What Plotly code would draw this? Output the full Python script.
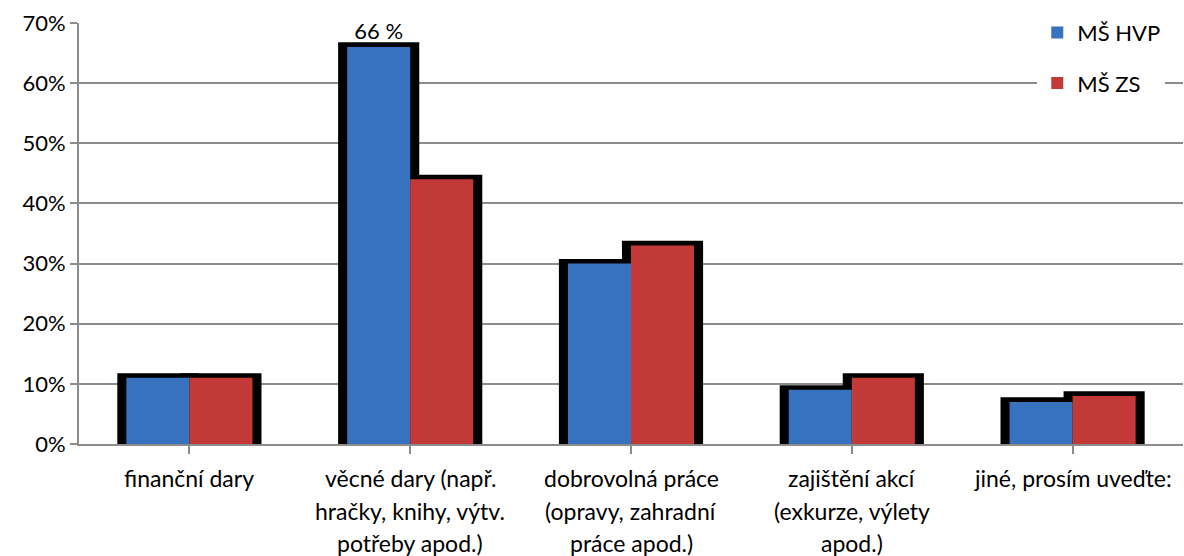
import plotly.graph_objects as go

# Survey answers: forms of support, share of respondents
categories = [
    "finanční dary",
    "věcné dary (např.<br>hračky, knihy, výtv.<br>potřeby apod.)",
    "dobrovolná práce<br>(opravy, zahradní<br>práce apod.)",
    "zajištění akcí<br>(exkurze, výlety<br>apod.)",
    "jiné, prosím uveďte:",
]
hvp = [0.11, 0.66, 0.30, 0.09, 0.07]
zs = [0.11, 0.44, 0.33, 0.11, 0.08]
series_names = ["MŠ HVP", "MŠ ZS"]
hvp_labels = ["", "66 %", "", "", ""]

FONT = "Lato"
BAR_W = 0.2855          # width of one bar in category units
PAD_X = 0.041           # black backing frame sticks out this much on each side
PAD_Y = 0.0078          # ...and this much above the bar top
LINE_GAP = 32.5         # px between category label lines
FIRST_LINE = 34         # px from the axis to the first label line

idx = list(range(len(categories)))

fig = go.Figure()

# black backing frames drawn first, behind the coloured bars
for vals, off in ((hvp, -BAR_W), (zs, 0.0)):
    fig.add_trace(go.Bar(
        x=idx, y=[v + PAD_Y for v in vals],
        offset=off - PAD_X, width=BAR_W + 2 * PAD_X,
        marker=dict(color="#000000", line=dict(width=0)),
        showlegend=False, hoverinfo="skip",
    ))

fig.add_trace(go.Bar(
    x=idx, y=hvp, name=series_names[0], offset=-BAR_W, width=BAR_W,
    marker=dict(color="#3672BD", line=dict(width=0)),
    text=hvp_labels, texttemplate="%{text}", textposition="outside",
    textfont=dict(family=FONT, size=22, color="#000000"),
    cliponaxis=False, legendgroup="a",
))
fig.add_trace(go.Bar(
    x=idx, y=zs, name=series_names[1], offset=0.0, width=BAR_W,
    marker=dict(color="#C23937", line=dict(width=0)),
    legendgroup="b",
))

# category labels, one annotation per line for wider line spacing
annotations = []
for i, label in enumerate(categories):
    for k, line in enumerate(label.split("<br>")):
        annotations.append(dict(
            x=i, xref="x", y=0, yref="paper",
            text=line, showarrow=False,
            xanchor="center", yanchor="middle",
            yshift=-(FIRST_LINE + k * LINE_GAP),
            font=dict(family=FONT, size=23, color="#000000"),
        ))

fig.update_layout(
    barmode="overlay",
    width=1184, height=556,
    margin=dict(l=79, r=1, t=23, b=112),
    paper_bgcolor="#ffffff", plot_bgcolor="#ffffff",
    font=dict(family=FONT, size=22, color="#000000"),
    annotations=annotations,
    legend=dict(
        x=0.868, y=1.027, xanchor="left", yanchor="top",
        bgcolor="#ffffff", traceorder="grouped", tracegroupgap=19,
        font=dict(family=FONT, size=22, color="#000000"),
        itemwidth=30,
    ),
    xaxis=dict(
        tickmode="array", tickvals=idx, ticktext=[""] * len(idx),
        showticklabels=False,
        range=[-0.5, len(categories) - 0.5],
        showgrid=False, showline=True, linecolor="#8c8c8c", linewidth=2,
        ticks="outside", tickson="boundaries", ticklen=8, tickcolor="#8c8c8c",
        tickwidth=2,
    ),
    yaxis=dict(
        range=[0, 0.7], dtick=0.1, tickformat=".0%",
        showgrid=True, gridcolor="#8c8c8c", gridwidth=2,
        showline=True, linecolor="#8c8c8c", linewidth=2,
        ticks="outside", ticklen=7, tickcolor="#8c8c8c", tickwidth=2,
        tickfont=dict(family=FONT, size=22, color="#000000"),
        zeroline=False,
    ),
)

fig.write_html("out.html")
